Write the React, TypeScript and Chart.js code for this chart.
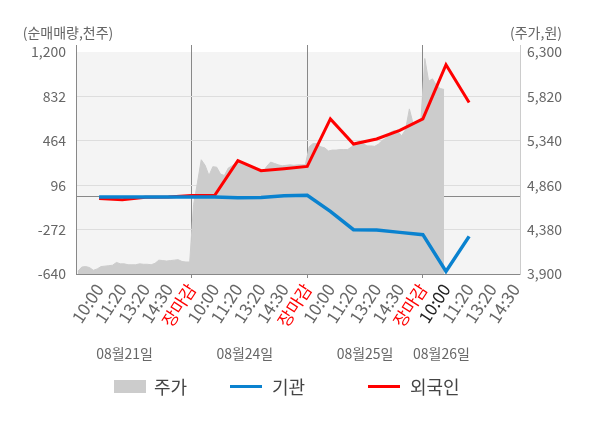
import React, { useEffect, useRef } from 'react';
import { Chart, registerables } from 'chart.js';

Chart.register(...registerables);

const FONT = '"Noto Sans CJK KR", "Noto Sans", sans-serif';
const RED = '#ff0000';
const BLUE = '#0a82cf';
const PRICE_GRAY = '#cccccc';

// x-axis labels, one per slot (slot 1..19)
const timeLabels = [
  '10:00', '11:20', '13:20', '14:30', '장마감',
  '10:00', '11:20', '13:20', '14:30', '장마감',
  '10:00', '11:20', '13:20', '14:30', '장마감',
  '10:00', '11:20', '13:20', '14:30',
];
const dateLabels = ['08월21일', '08월24일', '08월25일', '08월26일'];
const currentSlot = 16; // the dark "10:00"

// 순매매량 (천주), slots 1..17
const institution = [-2, -2, -2, -2, -2, -2, -7, -6, 8, 12, -121, -273, -276, -295, -314, -618, -328];
const foreign = [-15, -25, -3, -2, 10, 12, 299, 216, 233, 252, 645, 437, 479, 550, 645, 1095, 782];

// 주가 (원), equally spaced through each session
const priceDay1 = [
  3930, 3975, 3980, 3970, 3940, 3955, 3980, 3985, 3990, 3995,
  4025, 4010, 4010, 4000, 4000, 4000, 4010, 4005, 4005, 4000,
  4015, 4050, 4045, 4040, 4045, 4050, 4055, 4035, 4030, 4030,
];
const priceDay2 = [
  4650, 4885, 5135, 5075, 4965, 5060, 5055, 4980, 4965, 5045,
  5070, 5105, 5110, 5090, 5070, 5055, 5040, 5010, 5000, 5065,
  5110, 5095, 5080, 5070, 5075, 5080, 5075, 5080, 5080, 5080,
];
const priceDay3 = [
  5275, 5310, 5310, 5275, 5265, 5230, 5240, 5240, 5245, 5245,
  5245, 5275, 5310, 5340, 5310, 5285, 5285, 5280, 5305, 5345,
  5370, 5430, 5450, 5440, 5395, 5460, 5685, 5520, 5540, 5565,
];
const priceDay4 = [6230, 5985, 6010, 5940, 5905, 5895];
const priceDays = [priceDay1, priceDay2, priceDay3, priceDay4];

const leftTicks = [-640, -272, 0, 96, 464, 832, 1200];
const rightTicks = [3900, 4380, 4860, 5340, 5820, 6300];

const SLOTS_PER_DAY = 5;
const SAMPLES_PER_DAY = 30;

const legendItems = [
  { label: '주가', color: PRICE_GRAY, kind: 'box', left: 114 },
  { label: '기관', color: BLUE, kind: 'line', left: 230 },
  { label: '외국인', color: RED, kind: 'line', left: 368 },
];

const decor = {
  id: 'decor',
  beforeDraw(chart: any) {
    const { ctx, chartArea, scales } = chart;
    const top = scales.y.getPixelForValue(1200);
    ctx.save();
    ctx.fillStyle = '#f4f4f4';
    ctx.fillRect(chartArea.left, top, chartArea.right - chartArea.left, chartArea.bottom - top);
    ctx.restore();
  },
  afterDraw(chart: any) {
    const { ctx, scales } = chart;
    ctx.save();
    ctx.fillStyle = '#666';
    ctx.font = `14px ${FONT}`;
    ctx.textAlign = 'center';
    ctx.textBaseline = 'middle';
    ctx.fillText('(순매매량,천주)', 68, 33);
    ctx.fillText('(주가,원)', 536, 33);
    const datePos = [2.1, 7.3, 12.5, 15.8];
    dateLabels.forEach((d, i) => {
      ctx.fillText(d, scales.x.getPixelForValue(datePos[i]), 354);
    });
    ctx.restore();
  },
};

export default function App() {
  const canvasRef = useRef<HTMLCanvasElement | null>(null);

  useEffect(() => {
    document.body.style.margin = '0';
    if (!canvasRef.current) return;
    Chart.defaults.font.family = FONT;

    const pricePoints: { x: number; y: number }[] = [];
    priceDays.forEach((day, d) => {
      day.forEach((p, i) => {
        pricePoints.push({ x: d * SLOTS_PER_DAY + ((i + 0.5) * SLOTS_PER_DAY) / SAMPLES_PER_DAY, y: p });
      });
    });
    const instPoints = institution.map((v, i) => ({ x: i + 1, y: v }));
    const forPoints = foreign.map((v, i) => ({ x: i + 1, y: v }));

    const chart = new Chart(canvasRef.current, {
      type: 'line',
      data: {
        datasets: [
          {
            label: '주가',
            data: pricePoints,
            yAxisID: 'y1',
            borderColor: PRICE_GRAY,
            backgroundColor: PRICE_GRAY,
            borderWidth: 1,
            fill: 'start',
            pointRadius: 0,
            order: 3,
          },
          {
            label: '기관',
            data: instPoints,
            yAxisID: 'y',
            borderColor: BLUE,
            borderWidth: 3.5,
            pointRadius: 0,
            fill: false,
            order: 1,
          },
          {
            label: '외국인',
            data: forPoints,
            yAxisID: 'y',
            borderColor: RED,
            borderWidth: 3,
            pointRadius: 0,
            fill: false,
            order: 2,
          },
        ],
      },
      options: {
        responsive: false,
        animation: false,
        layout: { padding: { top: 45, left: 0, right: 0, bottom: 0 } },
        plugins: { legend: { display: false }, tooltip: { enabled: false } },
        scales: {
          x: {
            type: 'linear',
            min: 0,
            max: 19.2,
            afterBuildTicks: (s: any) => {
              s.ticks = Array.from({ length: timeLabels.length + 1 }, (_, i) => ({ value: i }));
            },
            afterFit: (s: any) => {
              s.height = 154;
            },
            grid: {
              color: (c: any) =>
                c.tick && c.tick.value > 0 && c.tick.value % SLOTS_PER_DAY === 0 ? '#888' : 'rgba(0,0,0,0)',
              tickLength: 4,
            },
            border: { color: '#888' },
            ticks: {
              autoSkip: false,
              minRotation: 57,
              maxRotation: 57,
              padding: 2,
              font: { size: 17 },
              color: (c: any) => {
                const v = c.tick ? c.tick.value : 0;
                if (timeLabels[v - 1] === '장마감') return RED;
                if (v === currentSlot) return '#222';
                return '#666';
              },
              callback: (v: any) => (v >= 1 ? timeLabels[v - 1] : ''),
            },
          },
          y: {
            position: 'left',
            min: -640,
            max: 1258,
            afterBuildTicks: (s: any) => {
              s.ticks = leftTicks.map((value) => ({ value }));
            },
            afterFit: (s: any) => {
              s.width = 76;
            },
            grid: {
              drawTicks: false,
              color: (c: any) =>
                c.tick && c.tick.value === 0 ? '#888' : c.tick && c.tick.value === 1200 ? 'rgba(0,0,0,0)' : '#dddddd',
            },
            border: { color: '#888' },
            ticks: {
              padding: 10,
              color: '#666',
              font: { size: 14 },
              callback: (v: any) => (v === 0 ? '' : Number(v).toLocaleString('en-US')),
            },
          },
          y1: {
            position: 'right',
            min: 3900,
            max: 6376,
            afterBuildTicks: (s: any) => {
              s.ticks = rightTicks.map((value) => ({ value }));
            },
            afterFit: (s: any) => {
              s.width = 80;
            },
            grid: { drawOnChartArea: false, drawTicks: false },
            border: { color: '#cccccc' },
            ticks: {
              padding: 7,
              color: '#666',
              font: { size: 14 },
              callback: (v: any) => Number(v).toLocaleString('en-US'),
            },
          },
        },
      },
      plugins: [decor],
    } as any);

    return () => {
      chart.destroy();
    };
  }, []);

  return (
    <div style={{ position: 'relative', width: 600, height: 428, fontFamily: FONT }}>
      <canvas ref={canvasRef} width={600} height={428} style={{ display: 'block' }} />
      {legendItems.map((item) => (
        <div
          key={item.label}
          style={{
            position: 'absolute',
            left: item.left,
            top: 374,
            height: 24,
            display: 'flex',
            alignItems: 'center',
            fontSize: 18,
            color: '#444',
          }}
        >
          <span
            style={{
              display: 'inline-block',
              width: 32,
              height: item.kind === 'box' ? 13 : 3,
              background: item.color,
              marginRight: item.kind === 'box' ? 8 : 10,
            }}
          />
          {item.label}
        </div>
      ))}
    </div>
  );
}
